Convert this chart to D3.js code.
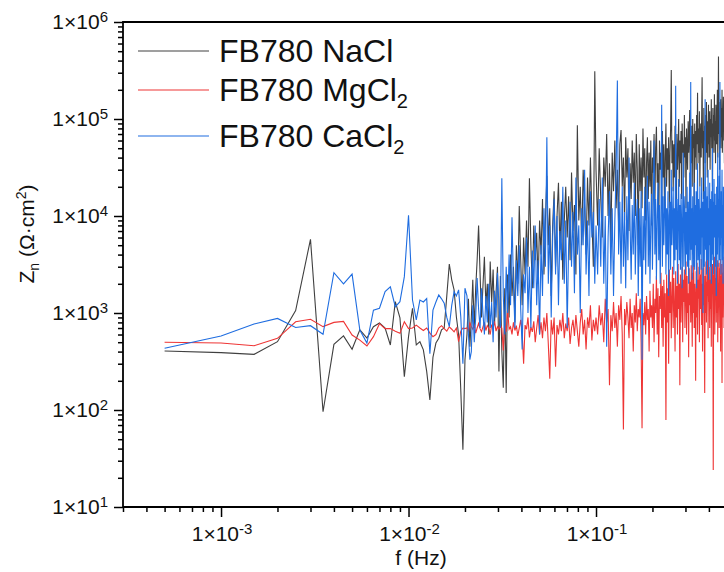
<!DOCTYPE html>
<html lang="en">
<head>
  <meta charset="UTF-8">
  <title>FB780 noise impedance</title>
  <script src='https://d3js.org/d3.v7.min.js'></script>
  <style>
    body { margin: 0; background: #fff; }
    text { font-family: 'Liberation Sans', Arial, sans-serif; fill: #111; }
  </style>
</head>
<body>
</body>
<script>
  const width = 724, height = 572;

  // legend names
  const seriesNames = ['NaCl', 'MgCl', 'CaCl'];
  const seriesSubs = ['', '2', '2'];
  const seriesColors = ['#404040', '#ee3535', '#1f6de0'];

  // tick values
  const yMajor = [1e1, 1e2, 1e3, 1e4, 1e5, 1e6];
  const yExp = [1, 2, 3, 4, 5, 6];
  const xMajor = [1e-3, 1e-2, 1e-1];
  const xExp = [-3, -2, -1];

  // low frequency part, sampled every 0.0005 Hz
  const dfLow = 0.0005;
  const nacLow = [406, 390, 375, 506, 1060, 5750, 96, 475, 580, 423,
    670, 552, 723, 790, 700, 468, 1310, 890, 220, 570,
    1120, 468, 506, 417, 250, 127, 350, 490, 550, 670,
    700, 1500, 3200, 2200, 1730, 910, 600, 160, 39, 330];
  const mgLow = [500, 490, 460, 548, 813, 861, 724, 800, 820, 593,
    525, 457, 570, 776, 690, 690, 647, 617, 813, 690,
    700, 750, 700, 660, 700, 620, 570, 600, 700, 740,
    690, 650, 720, 680, 640, 700, 506, 650, 700, 690];
  const caLow = [433, 580, 771, 880, 710, 740, 603, 2600, 1995, 2520,
    668, 490, 1070, 1120, 1660, 1860, 1160, 1310, 2370, 10200,
    1360, 850, 1360, 1300, 1410, 380, 1070, 1300, 1535, 1400,
    1260, 900, 724, 1200, 1660, 1500, 1730, 912, 300, 1800];

  // middle part, read out at log spaced points 0.0205 .. 0.0985 Hz
  const fMidStart = 0.0205, fMidEnd = 0.0985;
  const nacMid = [600, 1400, 450, 900, 2200, 700, 1800, 3500, 8000, 2600,
    900, 1900, 3800, 1200, 2000, 600, 3400, 1300, 2800, 800,
    1600, 3000, 250, 2400, 400, 170, 1800, 150, 2500, 900,
    4000, 1500, 3000, 800, 5000, 2000, 12700, 3500, 1200, 6000,
    2500, 9000, 3000, 24500, 5000, 1800, 8000, 3500, 6700, 2000,
    9000, 4000, 15000, 2500, 9000, 26000, 5000, 12000, 1500, 8000,
    18000, 3000, 10000, 22000, 4500, 14000, 2200, 9000, 20000, 6000,
    16000, 3500, 28000, 7000, 13000, 2500, 86000, 9000, 20000, 5000,
    30000, 12000, 4000, 25000, 8000, 40000, 10000, 3000, 310000];
  const mgMid = [700, 650, 800, 720, 680, 760, 620, 700, 780, 690,
    640, 720, 800, 660, 740, 700, 600, 760, 690, 820,
    650, 720, 680, 750, 700, 410, 760, 640, 1100, 680,
    720, 600, 800, 660, 740, 580, 700, 850, 620, 300,
    750, 680, 900, 560, 720, 640, 820, 500, 700, 950,
    600, 800, 550, 900, 650, 1000, 480, 210, 850, 600,
    900, 280, 750, 600, 850, 650, 1000, 550, 780, 650,
    900, 480, 700, 850, 580, 950, 650, 450, 800, 1100,
    600, 850, 420, 900, 700, 1200, 520, 850, 650];
  const caMid = [1500, 600, 330, 400, 1200, 500, 900, 2300, 1100, 700,
    1800, 1000, 600, 1500, 800, 2000, 700, 1300, 500, 1700,
    900, 2600, 1200, 700, 24500, 1500, 600, 3000, 1000, 4000,
    1200, 9700, 2000, 700, 3500, 1500, 5000, 1100, 420, 2500,
    1600, 6000, 1000, 3000, 700, 4400, 1800, 8000, 1200, 3500,
    600, 5000, 1500, 12000, 3000, 65000, 2000, 8000, 900, 6000,
    15000, 2500, 10000, 1200, 7000, 3500, 20000, 2000, 9000, 700,
    5000, 14000, 3000, 11000, 1600, 25000, 4000, 8000, 1000, 12000,
    5000, 30000, 2500, 9000, 1500, 18000, 6000, 11000, 2000];

  // high frequency part, every 0.002 Hz from 0.1 Hz
  const fHighStart = 0.1, dfHigh = 0.002;
  const nacHigh = [30000, 8000, 50000, 15000, 6000, 40000, 20000, 70000, 10000, 35000,
    5000, 45000, 18000, 60000, 12000, 30000, 8000, 55000, 77000, 20000,
    40000, 9000, 65000, 25000, 50000, 7000, 35000, 15000, 60000, 22000,
    45000, 10000, 70000, 30000, 5000, 55000, 18000, 40000, 12000, 80000,
    25000, 50000, 9000, 35000, 65000, 15000, 45000, 20000, 60000, 8000,
    40000, 28000, 70000, 12000, 50000, 83000, 22000, 35000, 6000, 60000,
    30000, 45000, 15000, 75000, 25000, 55000, 10000, 40000, 90000, 20000,
    50000, 30000, 65000, 12000, 45000, 80000, 320000, 35000, 60000, 18000,
    55000, 25000, 85000, 40000, 8000, 70000, 30000, 50000, 100000, 20000,
    60000, 35000, 75000, 15000, 90000, 45000, 55000, 25000, 110000, 40000,
    65000, 12000, 80000, 50000, 30000, 95000, 45000, 70000, 124000, 25000,
    60000, 35000, 85000, 20000, 100000, 50000, 70000, 10000, 90000, 40000,
    75000, 30000, 110000, 55000, 186000, 35000, 80000, 45000, 120000, 20000,
    65000, 90000, 40000, 100000, 270000, 50000, 75000, 15000, 130000, 60000,
    85000, 35000, 110000, 45000, 150000, 70000, 25000, 95000, 55000, 140000,
    40000, 80000, 120000, 30000, 100000, 65000, 160000, 50000, 90000, 20000,
    130000, 70000, 110000, 45000, 180000, 60000, 95000, 35000, 140000, 80000,
    55000, 120000, 200000, 40000, 100000, 440000, 70000, 150000, 30000, 110000,
    85000, 160000, 50000, 130000, 65000, 200000, 45000, 120000, 90000, 170000,
    60000, 140000, 35000, 110000, 250000, 75000, 130000, 50000, 180000, 95000];
  const mgHigh = [900, 600, 1200, 750, 1000, 500, 1400, 800, 1100, 180,
    950, 650, 1300, 700, 1000, 450, 1200, 850, 1500, 600,
    63, 1100, 750, 1300, 900, 550, 1400, 700, 1000, 400,
    1200, 800, 1600, 650, 1100, 900, 1400, 500, 65, 1000,
    750, 1300, 600, 1500, 850, 1100, 400, 1700, 900, 1200,
    700, 2000, 500, 1400, 1000, 2400, 600, 1800, 350, 1500,
    1100, 2600, 700, 1900, 450, 2200, 900, 1600, 79, 2500,
    800, 1800, 300, 2800, 1000, 2100, 550, 1500, 3000, 700,
    2300, 1200, 400, 2700, 900, 1900, 600, 3200, 1100, 2000,
    180, 2500, 800, 1700, 3000, 500, 2200, 1300, 2800, 700,
    1900, 3400, 600, 2400, 1000, 1600, 350, 2900, 1200, 2100,
    800, 3100, 1500, 450, 2600, 1000, 3500, 700, 2000, 1300,
    200, 2700, 900, 3300, 600, 2200, 1400, 3000, 500, 1800,
    2500, 1100, 3600, 750, 2000, 400, 2900, 1200, 3200, 650,
    150, 2400, 1000, 3400, 800, 2100, 1500, 3700, 550, 2600,
    1300, 3000, 700, 2200, 1100, 3500, 450, 2800, 1600, 3200,
    900, 24, 2500, 1200, 3800, 600, 2300, 1400, 3100, 800,
    2700, 1000, 3500, 500, 2000, 1500, 3300, 700, 2900, 1200,
    3600, 400, 2400, 1100, 3200, 190, 2600, 900, 3800, 1300,
    2200, 700, 3400, 1000, 2800, 600, 3100, 1500, 2500, 850];
  const caHigh = [8000, 2500, 15000, 3000, 25000, 2000, 10000, 450, 6000, 18000,
    2500, 12000, 1500, 9000, 30000, 250000, 4000, 14000, 2000, 20000,
    3000, 11000, 1800, 16000, 3500, 40000, 8000, 2200, 13000, 4000,
    22000, 2500, 9000, 15000, 1500, 12000, 3000, 18000, 330, 10000,
    3500, 20000, 2500, 11000, 26000, 3000, 14000, 2000, 9000, 17000,
    2800, 12000, 60000, 4000, 15000, 2200, 10000, 22000, 3500, 13000,
    2000, 9000, 140000, 3000, 16000, 5000, 11000, 25000, 2500, 12000,
    4000, 18000, 1500, 10000, 14000, 2800, 30000, 5000, 9000, 20000,
    2500, 12000, 3500, 220000, 4500, 15000, 2000, 11000, 24000, 3500,
    13000, 2800, 17000, 9000, 1800, 12000, 45000, 3000, 10000, 16000,
    2500, 11000, 4000, 20000, 3000, 14000, 2000, 9000, 28000, 3500,
    240000, 4500, 12000, 2200, 16000, 6000, 3000, 22000, 2800, 13000,
    5000, 18000, 1800, 11000, 35000, 3500, 15000, 6000, 2500, 20000,
    4000, 12000, 2800, 25000, 6000, 14000, 1000, 10000, 18000, 3000,
    13000, 160000, 4500, 20000, 2500, 11000, 16000, 3500, 30000, 2200,
    12000, 5000, 22000, 3000, 15000, 7000, 2000, 18000, 4000, 50000,
    3500, 14000, 2500, 24000, 6000, 9000, 17000, 3000, 13000, 1500,
    20000, 4000, 12000, 45000, 3000, 15000, 6000, 26000, 3500, 240000,
    5000, 14000, 2500, 18000, 6000, 30000, 3500, 13000, 2000, 20000,
    5000, 16000, 3000, 12000, 25000, 4000, 15000, 2500, 11000, 19000];

  // frequency grids
  const freqLow = nacLow.map((_, i) => (i + 1) * dfLow);
  const freqMid = nacMid.map((_, i) => fMidStart * Math.pow(fMidEnd / fMidStart, i / (nacMid.length - 1)));
  const freqHigh = nacHigh.map((_, i) => fHighStart + i * dfHigh);
  const freq = freqLow.concat(freqMid, freqHigh);

  const series = [
    nacLow.concat(nacMid, nacHigh),
    mgLow.concat(mgMid, mgHigh),
    caLow.concat(caMid, caHigh)
  ];

  // setup svg
  const svg = d3.select('body').append('svg')
    .attr('width', width).attr('height', height);

  const plotLeft = 123, plotTop = 22, plotBottom = 507;
  const x = d3.scaleLog().domain([3e-4, 1]).range([plotLeft, 783.5]);
  const y = d3.scaleLog().domain([10, 1e6]).range([plotBottom, plotTop]);

  svg.append('clipPath').attr('id', 'plot-clip')
    .append('rect').attr('x', plotLeft).attr('y', plotTop)
    .attr('width', 800 - plotLeft).attr('height', plotBottom - plotTop);

  const line = d3.line()
    .x(d => x(d[0]))
    .y(d => y(d[1]));

  const plot = svg.append('g').attr('clip-path', 'url(#plot-clip)');
  series.forEach((vals, i) => {
    plot.append('path')
      .datum(vals.map((v, j) => [freq[j], v]))
      .attr('fill', 'none')
      .attr('stroke', seriesColors[i])
      .attr('stroke-width', 1.1)
      .attr('d', line);
  });

  // minor tick values
  const yMinor = [];
  for (let e = 1; e < 6; e++) for (let m = 2; m <= 9; m++) yMinor.push(m * Math.pow(10, e));
  const xMinor = [];
  for (let e = -4; e < 0; e++) for (let m = 2; m <= 9; m++) {
    const v = m * Math.pow(10, e);
    if (v >= 3e-4 && v <= 1) xMinor.push(v);
  }

  const axisStyle = g => {
    g.select('.domain').remove();
    g.selectAll('line').attr('stroke', '#000').attr('stroke-width', 1.5);
  };

  svg.append('g').attr('transform', `translate(${plotLeft},0)`)
    .call(d3.axisLeft(y).tickValues(yMinor).tickSize(5).tickFormat(''))
    .call(axisStyle);
  svg.append('g').attr('transform', `translate(${plotLeft},0)`)
    .call(d3.axisLeft(y).tickValues(yMajor).tickSize(9).tickFormat(''))
    .call(axisStyle);
  svg.append('g').attr('transform', `translate(0,${plotBottom})`)
    .call(d3.axisBottom(x).tickValues(xMinor).tickSize(5).tickFormat(''))
    .call(axisStyle);
  svg.append('g').attr('transform', `translate(0,${plotBottom})`)
    .call(d3.axisBottom(x).tickValues(xMajor).tickSize(10).tickFormat(''))
    .call(axisStyle);

  // frame
  svg.append('path')
    .attr('d', `M${width + 2},${plotTop}H${plotLeft}V${plotBottom}H${width + 2}`)
    .attr('fill', 'none').attr('stroke', '#000').attr('stroke-width', 1.8);

  // tick labels
  function powLabel(sel, e) {
    sel.append('tspan').text('1×10');
    sel.append('tspan').attr('dy', -7).attr('font-size', 15).text(e);
  }
  yMajor.forEach((v, i) => {
    svg.append('text')
      .attr('x', 108).attr('y', y(v) + 7)
      .attr('text-anchor', 'end').attr('font-size', 21)
      .call(powLabel, yExp[i]);
  });
  xMajor.forEach((v, i) => {
    svg.append('text')
      .attr('x', x(v) + 1).attr('y', 541)
      .attr('text-anchor', 'middle').attr('font-size', 21)
      .call(powLabel, xExp[i]);
  });

  // axis titles
  svg.append('text')
    .attr('x', 421).attr('y', 565)
    .attr('text-anchor', 'middle').attr('font-size', 21)
    .text('f (Hz)');

  const yTitle = svg.append('text')
    .attr('transform', 'translate(34,234) rotate(-90)')
    .attr('text-anchor', 'middle').attr('font-size', 21);
  yTitle.append('tspan').text('Z');
  yTitle.append('tspan').attr('dy', 5).attr('font-size', 14).text('n');
  yTitle.append('tspan').attr('dy', -5).text(' (Ω·cm');
  yTitle.append('tspan').attr('dy', -8).attr('font-size', 14).text('2');
  yTitle.append('tspan').attr('dy', 8).text(')');

  // legend
  const legendY = [51, 90, 136];
  const legendBase = [62, 101, 147];
  seriesNames.forEach((name, i) => {
    svg.append('line')
      .attr('x1', 138).attr('x2', 209)
      .attr('y1', legendY[i]).attr('y2', legendY[i])
      .attr('stroke', seriesColors[i]).attr('stroke-width', 1.2);
    const t = svg.append('text')
      .attr('x', 219).attr('y', legendBase[i])
      .attr('font-size', 32);
    t.append('tspan').text('FB780 ' + name);
    if (seriesSubs[i]) {
      t.append('tspan').attr('dy', 7).attr('font-size', 20).text(seriesSubs[i]);
    }
  });

  console.log('ready..');
</script>
</html>
